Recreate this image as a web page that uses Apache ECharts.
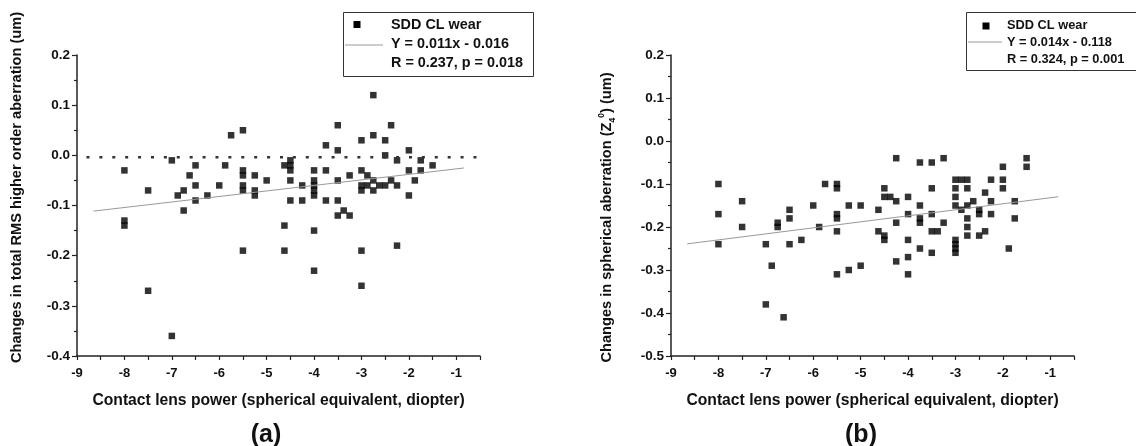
<!DOCTYPE html>
<html><head><meta charset="utf-8">
<script src="https://cdn.jsdelivr.net/npm/echarts@6/dist/echarts.min.js"></script>
<style>html,body{margin:0;padding:0;background:#fff}#c{width:1136px;height:446px}</style>
</head><body><div id="c"></div>
<script>
// ---- Panel (a): total RMS HOA change vs CL power ----
const powerA = [-8,-8,-8,-7.5,-7.5,-7,-7,-6.875,-6.75,-6.75,-6.625,-6.5,-6.5,-6.5,-6.25,-6,-5.875,-5.75,
  -5.5,-5.5,-5.5,-5.5,-5.5,-5.5,-5.25,-5.25,-5.25,-5,-4.625,-4.625,-4.625,-4.5,-4.5,-4.5,-4.5,-4.5,-4.25,-4.25,
  -4,-4,-4,-4,-4,-4,-4,-3.75,-3.75,-3.75,-3.5,-3.5,-3.5,-3.5,-3.5,-3.375,-3.25,-3.25,
  -3,-3,-3,-3,-3,-3,-2.875,-2.875,-2.75,-2.75,-2.75,-2.75,-2.625,-2.5,-2.5,-2.5,-2.375,-2.375,
  -2.25,-2.25,-2.25,-2,-2,-2,-1.875,-1.75,-1.75,-1.5];
const hoaA = [-0.03,-0.13,-0.14,-0.07,-0.27,-0.01,-0.36,-0.08,-0.07,-0.11,-0.04,-0.02,-0.06,-0.09,-0.08,-0.06,-0.02,0.04,
  0.05,-0.03,-0.04,-0.06,-0.07,-0.19,-0.04,-0.07,-0.08,-0.05,-0.02,-0.14,-0.19,-0.01,-0.02,-0.03,-0.05,-0.09,-0.06,-0.09,
  -0.03,-0.05,-0.06,-0.07,-0.08,-0.15,-0.23,0.02,-0.03,-0.09,0.06,0.01,-0.05,-0.09,-0.12,-0.11,-0.04,-0.12,
  0.03,-0.03,-0.06,-0.07,-0.19,-0.26,-0.04,-0.06,0.12,0.04,-0.05,-0.07,-0.06,0.03,0.00,-0.06,0.06,-0.05,
  -0.01,-0.06,-0.18,0.01,-0.03,-0.08,-0.05,-0.01,-0.03,-0.02];
const fitA = {slope: 0.011, intercept: -0.016, from: -8.65, to: -0.84};
const refLineA = {y: -0.004, from: -8.8, to: -0.35};
const legendA = ['SDD CL wear', 'Y = 0.011x - 0.016', 'R = 0.237, p = 0.018'];

// ---- Panel (b): spherical aberration change vs CL power ----
const powerB = [-8,-8,-8,-7.5,-7.5,-7,-7,-6.875,-6.75,-6.75,-6.625,-6.5,-6.5,-6.5,-6.25,-6,-5.875,-5.75,
  -5.5,-5.5,-5.5,-5.5,-5.5,-5.5,-5.25,-5.25,-5,-5,-4.625,-4.625,-4.5,-4.5,-4.5,-4.5,-4.375,
  -4.25,-4.25,-4.25,-4.25,-4,-4,-4,-4,-4,-3.75,-3.75,-3.75,-3.75,-3.75,-3.5,-3.5,-3.5,-3.5,-3.5,-3.375,
  -3.25,-3.25,-3,-3,-3,-3,-3,-3,-3,-3,-2.875,-2.875,-2.75,-2.75,-2.75,-2.75,-2.75,-2.75,-2.625,
  -2.5,-2.5,-2.5,-2.375,-2.375,-2.25,-2.25,-2.25,-2,-2,-2,-1.875,-1.75,-1.75,-1.5,-1.5];
const saB = [-0.10,-0.17,-0.24,-0.14,-0.20,-0.24,-0.38,-0.29,-0.19,-0.20,-0.41,-0.16,-0.18,-0.24,-0.23,-0.15,-0.20,-0.10,
  -0.10,-0.11,-0.17,-0.18,-0.21,-0.31,-0.15,-0.30,-0.15,-0.29,-0.16,-0.21,-0.11,-0.13,-0.22,-0.23,-0.13,
  -0.04,-0.14,-0.19,-0.28,-0.13,-0.17,-0.23,-0.27,-0.31,-0.05,-0.15,-0.18,-0.19,-0.25,-0.05,-0.11,-0.17,-0.21,-0.26,-0.21,
  -0.04,-0.19,-0.09,-0.11,-0.13,-0.15,-0.23,-0.24,-0.25,-0.26,-0.09,-0.16,-0.09,-0.11,-0.15,-0.18,-0.20,-0.22,-0.14,
  -0.16,-0.17,-0.22,-0.12,-0.21,-0.09,-0.14,-0.17,-0.06,-0.09,-0.11,-0.25,-0.14,-0.18,-0.04,-0.06];
const fitB = {slope: 0.014, intercept: -0.118, from: -8.66, to: -0.83};
const legendB = ['SDD CL wear', 'Y = 0.014x - 0.118', 'R = 0.324, p = 0.001'];

const xTicks = {min: -9, max: -0.5, interval: 0.5};
const yTicksA = {min: -0.4, max: 0.2, interval: 0.1};
const yTicksB = {min: -0.5, max: 0.2, interval: 0.1};
const xTitle = 'Contact lens power (spherical equivalent, diopter)';
const yTitleA = 'Changes in total RMS higher order aberration (um)';
const panelLabels = ['(a)', '(b)'];

// ---------------------------------------------------------------
const FONT = '"Liberation Sans", Arial, Helvetica, sans-serif';
const zip = (xs, ys) => xs.map((x, i) => [x, ys[i]]);
const fitPts = f => [[f.from, f.slope * f.from + f.intercept], [f.to, f.slope * f.to + f.intercept]];

function xAxis(gi) {
  return {
    type: 'value', gridIndex: gi, min: xTicks.min, max: xTicks.max, interval: xTicks.interval,
    name: xTitle, nameLocation: 'middle', nameGap: 37,
    nameTextStyle: {fontFamily: FONT, fontWeight: 'bold', fontSize: 15.7, color: '#111'},
    axisLine: {show: true, onZero: false, lineStyle: {color: '#222', width: 1.5}},
    axisTick: {show: true, inside: false, length: 4, lineStyle: {color: '#222', width: 1.2}},
    axisLabel: {fontFamily: FONT, fontWeight: 'bold', fontSize: 13, color: '#111', margin: 11,
      formatter: v => Number.isInteger(v) ? String(v) : ''},
    splitLine: {show: false}
  };
}
function yAxis(gi, t, name, nameGap, pad, rich) {
  const ax = {
    type: 'value', gridIndex: gi, min: t.min, max: t.max, interval: t.interval,
    name: name, nameLocation: 'middle', nameGap: nameGap, nameRotate: 90,
    nameTextStyle: {fontFamily: FONT, fontWeight: 'bold', fontSize: 14.6, color: '#111', padding: pad},
    axisLine: {show: true, onZero: false, lineStyle: {color: '#222', width: 1.5}},
    axisTick: {show: true, inside: false, length: 5, lineStyle: {color: '#222', width: 1.2}},
    minorTick: {show: true, splitNumber: 2, length: 3, lineStyle: {color: '#222', width: 1.2}},
    axisLabel: {fontFamily: FONT, fontWeight: 'bold', fontSize: 13.5, color: '#111', margin: 7,
      formatter: v => v.toFixed(1)},
    splitLine: {show: false}, minorSplitLine: {show: false}
  };
  if (rich) ax.nameTextStyle.rich = rich;
  return ax;
}
const richB = {
  t: {fontFamily: FONT, fontWeight: 'bold', fontSize: 14.6, color: '#111', lineHeight: 20},
  sub: {fontFamily: FONT, fontWeight: 'bold', fontSize: 8.5, color: '#111', verticalAlign: 'bottom', lineHeight: 10},
  sup: {fontFamily: FONT, fontWeight: 'bold', fontSize: 8.5, color: '#111', verticalAlign: 'top', lineHeight: 10}
};
const yTitleB = '{t|Changes in spherical aberration (Z}{sub|4}{sup|0}{t|) (um)}';

function legendGraphic(L, box, sq, ln, tx, ys, fs) {
  const els = [
    {type: 'rect', shape: box, style: {fill: '#fff', stroke: '#333', lineWidth: 1}},
    {type: 'rect', shape: sq, style: {fill: '#000'}},
    {type: 'line', shape: ln, style: {stroke: '#999', lineWidth: 1}}
  ];
  L.forEach((s, i) => els.push({type: 'text', x: tx, y: ys[i],
    style: {text: s, fontFamily: FONT, fontWeight: 'bold', fontSize: fs, fill: '#111', textVerticalAlign: 'middle'}}));
  return els;
}

const chart = echarts.init(document.getElementById('c'), null, {renderer: 'canvas'});
chart.setOption({
  animation: false,
  backgroundColor: '#fff',
  grid: [
    {left: 77, top: 55, width: 403, height: 301},
    {left: 671, top: 55, width: 403, height: 301}
  ],
  xAxis: [xAxis(0), xAxis(1)],
  yAxis: [yAxis(0, yTicksA, yTitleA, 53, [0, 0, 0, 36]), yAxis(1, yTicksB, yTitleB, 54, [0, 24, 0, 0], richB)],
  series: [
    {type: 'line', xAxisIndex: 0, yAxisIndex: 0, data: [[refLineA.from, refLineA.y], [refLineA.to, refLineA.y]],
      showSymbol: false, clip: false, silent: true, lineStyle: {color: '#333', width: 2.5, type: [3, 9.9]}},
    {type: 'line', xAxisIndex: 0, yAxisIndex: 0, data: fitPts(fitA), showSymbol: false,
      lineStyle: {color: '#999', width: 1}},
    {type: 'scatter', name: legendA[0], xAxisIndex: 0, yAxisIndex: 0, data: zip(powerA, hoaA),
      symbol: 'rect', symbolSize: 6.5, itemStyle: {color: '#000'}},
    {type: 'line', xAxisIndex: 1, yAxisIndex: 1, data: fitPts(fitB), showSymbol: false,
      lineStyle: {color: '#999', width: 1}},
    {type: 'scatter', name: legendB[0], xAxisIndex: 1, yAxisIndex: 1, data: zip(powerB, saB),
      symbol: 'rect', symbolSize: 6.5, itemStyle: {color: '#000'}}
  ],
  graphic: [
    ...legendGraphic(legendA, {x: 343.5, y: 12.5, width: 190, height: 64}, {x: 353.5, y: 21, width: 7, height: 7},
      {x1: 345, y1: 45, x2: 383, y2: 45}, 391, [25, 44.5, 63], 14.4),
    ...legendGraphic(legendB, {x: 966.5, y: 12.5, width: 175, height: 58}, {x: 982.5, y: 22.5, width: 7, height: 7},
      {x1: 968, y1: 42, x2: 1002, y2: 42}, 1007, [25.5, 42.5, 59], 12.8),
    {type: 'text', x: 266, y: 435, style: {text: panelLabels[0], fontFamily: FONT, fontWeight: 'bold', fontSize: 25,
      fill: '#111', textAlign: 'center', textVerticalAlign: 'middle'}},
    {type: 'text', x: 861, y: 435, style: {text: panelLabels[1], fontFamily: FONT, fontWeight: 'bold', fontSize: 25,
      fill: '#111', textAlign: 'center', textVerticalAlign: 'middle'}}
  ]
});
</script></body></html>
